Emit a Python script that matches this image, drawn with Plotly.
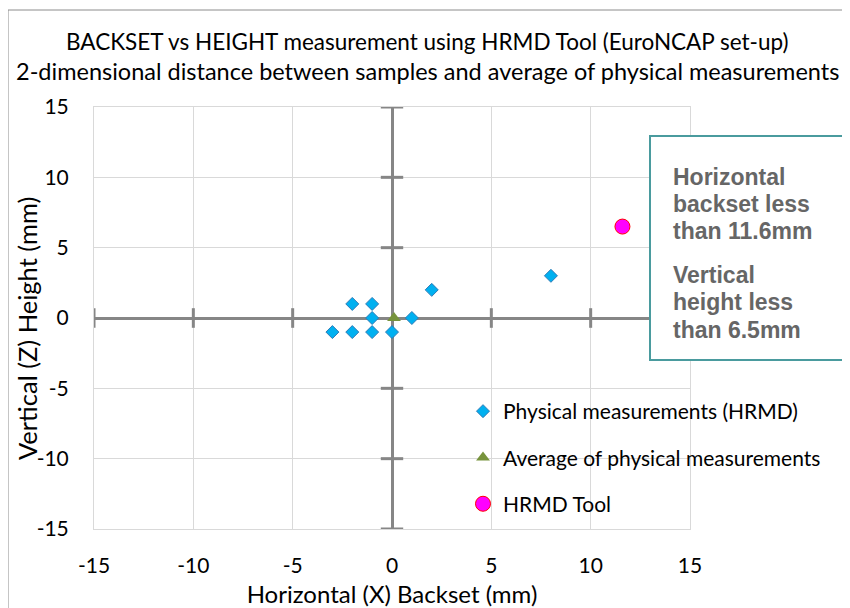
import plotly.graph_objects as go

# ---- data ----
phys_x = [-3, -2, -2, -1, -1, -1, 0, 1, 2, 8]
phys_y = [-1, -1, 1, 1, 0, -1, -1, 0, 2, 3]
avg_x = [0.1]
avg_y = [0.0]
tool_x = [11.6]
tool_y = [6.5]
tick_vals = [-15, -10, -5, 0, 5, 10, 15]
tick_text = ["-15", "-10", "-5", "0", "5", "10", "15"]
box_lines_1 = ["Horizontal", "backset less", "than 11.6mm"]
box_lines_2 = ["Vertical", "height less", "than 6.5mm"]

title_lines = ["BACKSET vs HEIGHT measurement using HRMD Tool (EuroNCAP set-up)",
               "2-dimensional distance between samples and average of physical measurements"]
x_title = "Horizontal (X) Backset (mm)"
y_title = "Vertical (Z) Height (mm)"

FONT = "Lato"
AXIS_GRAY = "#868686"
GRID = "#d9d9d9"

# page body has an 8px default margin; compensate so the figure lands on the reference pixels
OFF = 8
W, H = 850 - OFF, 608 - OFF
L, R, T, B = 94 - OFF, 690 - OFF, 107 - OFF, 529 - OFF
PW, PH = R - L, B - T


def px(xp):
    return (xp - OFF - L) / PW


def py(yp):
    return (B - (yp - OFF)) / PH


fig = go.Figure()

# crossing tick marks on zero axes
nz = [v for v in tick_vals if v != 0]
fig.add_trace(go.Scatter(x=nz, y=[0]*len(nz), mode="markers", showlegend=False, hoverinfo="skip",
                         marker=dict(symbol="line-ns", size=14, line=dict(width=3, color=AXIS_GRAY))))
fig.add_trace(go.Scatter(x=[0]*len(nz), y=nz, mode="markers", showlegend=False, hoverinfo="skip",
                         marker=dict(symbol="line-ew", size=16, line=dict(width=3, color=AXIS_GRAY))))

fig.add_trace(go.Scatter(x=phys_x, y=phys_y, mode="markers", name="Physical measurements (HRMD)",
                         legendgroup="a",
                         marker=dict(symbol="diamond", size=10, color="#00b0f0",
                                     line=dict(width=1, color="#2e7bb6"))))
fig.add_trace(go.Scatter(x=avg_x, y=avg_y, mode="markers", name="Average of physical measurements",
                         legendgroup="b",
                         marker=dict(symbol="triangle-up", size=12, color="#77933c",
                                     line=dict(width=0))))
fig.add_trace(go.Scatter(x=tool_x, y=tool_y, mode="markers", name="HRMD Tool",
                         legendgroup="c",
                         marker=dict(symbol="circle", size=15, color="#ff00ff",
                                     line=dict(width=1, color="#ff0000"))))

axis_common = dict(range=[-15, 15], tickvals=tick_vals, ticktext=tick_text,
                   showgrid=True, gridcolor=GRID, gridwidth=1,
                   zeroline=True, zerolinecolor=AXIS_GRAY, zerolinewidth=3,
                   showline=True, linecolor=GRID, linewidth=1, mirror=True,
                   ticks="outside", tickcolor="rgba(0,0,0,0)", automargin=False,
                   tickfont=dict(family=FONT, size=21, color="#000"))

fig.update_xaxes(**axis_common, ticklen=18,
                 title=dict(text=x_title, font=dict(family=FONT, size=24, color="#000"),
                            standoff=9))
fig.update_yaxes(**axis_common, ticklen=20)

# y-axis title (placed as rotated text to match the reference's offset)
fig.add_annotation(text=y_title, xref="paper", yref="paper", x=px(27), y=py(329),
                   textangle=-90, xanchor="center", yanchor="middle", showarrow=False,
                   font=dict(family=FONT, size=25.5, color="#000"))

# outer chart border
fig.add_shape(type="rect", xref="paper", yref="paper", x0=px(8), y0=-1, x1=2, y1=py(10),
              line=dict(color="#8c8c8c", width=1), layer="below")

# text box
fig.add_shape(type="rect", xref="paper", yref="paper", x0=px(650), y0=py(360), x1=px(846), y1=py(136),
              line=dict(color="#4a9b9e", width=2), fillcolor="white")
y_px = [177, 204, 231, 275, 302, 330]
lines = box_lines_1 + box_lines_2
for txt, yp in zip(lines, y_px):
    fig.add_annotation(text=txt, xref="paper", yref="paper", x=px(671), y=py(yp),
                       xanchor="left", yanchor="middle", showarrow=False, align="left",
                       font=dict(family="Liberation Sans", size=23, color="#666666", weight="bold"))

# two-line chart title
for txt, yp, sz in zip(title_lines, [42, 71], [22.5, 23.5]):
    fig.add_annotation(text=txt, xref="paper", yref="paper", x=px(427), y=py(yp),
                       xanchor="center", yanchor="middle", showarrow=False,
                       font=dict(family=FONT, size=sz, color="#000"))

fig.update_layout(
    width=W, height=H,
    margin=dict(l=L, r=W - R, t=T, b=H - B, autoexpand=False),
    paper_bgcolor="white", plot_bgcolor="white",
    legend=dict(x=px(463), y=py(391), xanchor="left", yanchor="top",
                font=dict(family=FONT, size=21, color="#000"), bgcolor="rgba(255,255,255,0)",
                tracegroupgap=16),
    showlegend=True,
)

fig.write_html("out.html")
